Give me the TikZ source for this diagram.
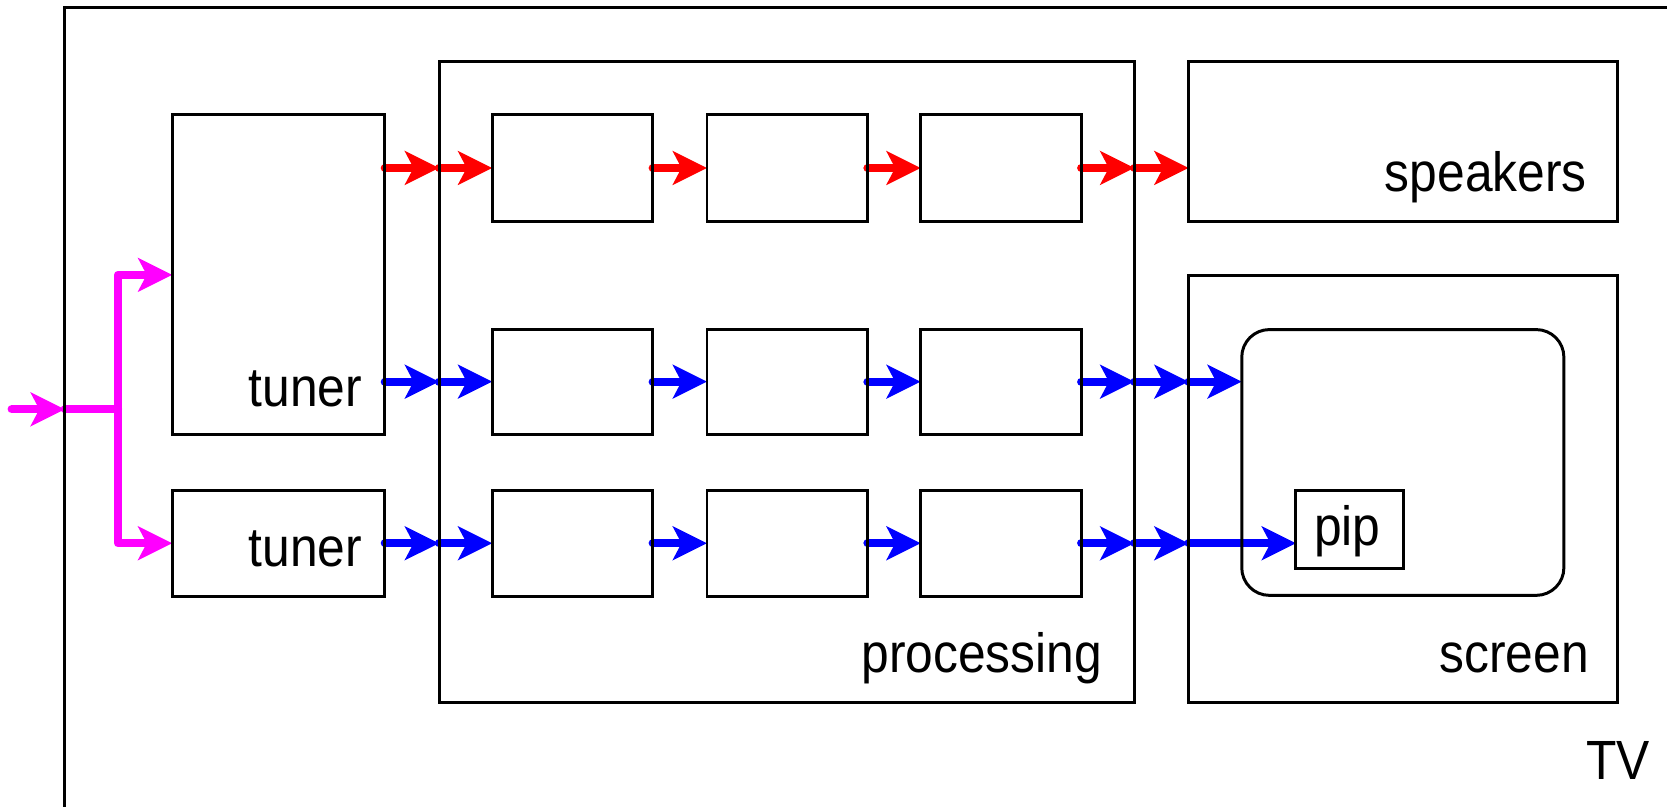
\documentclass[tikz,border=0pt]{standalone}
\usepackage{fontspec}
\setmainfont[FakeStretch=0.9]{Liberation Sans}
\usetikzlibrary{arrows.meta,fit}
\pgfdeclarelayer{bg}
\pgfsetlayers{bg,main}
\definecolor{myred}{RGB}{255,0,0}
\definecolor{myblue}{RGB}{0,0,255}
\definecolor{mymag}{RGB}{255,0,255}
\tikzset{
  box/.style={draw=black, line width=1.4pt, inner sep=0pt, outer sep=0pt, rectangle},
  lbl/.style={inner sep=0pt, anchor=base east, font=\fontsize{26pt}{31pt}\selectfont},
  flowline/.style={line width=3.9pt, line cap=round, line join=round},
  flow/.style={flowline, -{Stealth[length=16pt, width=15.7pt, inset=4pt]}},
  redflow/.style={flow, myred},
  blueflow/.style={flow, myblue},
  magflow/.style={flow, mymag},
  magline/.style={flowline, mymag},
}
\begin{document}
\begin{tikzpicture}[x=0.5pt, y=-0.5pt]
\useasboundingbox (0,0) rectangle (1568,759);
\clip (0,0) rectangle (1568,759);
% containers
\node[box, fit={(61,7) (1640,840)}] (tv) {};
\node[box, fit={(162,108) (362,409)}] (tuner1) {};
\node[box, fit={(162,461) (362,561)}] (tuner2) {};
\node[box, fit={(413,58) (1067,661)}] (proc) {};
\node[box, fit={(1118,58) (1521,208)}] (spk) {};
\node[box, fit={(1118,259) (1521,661)}] (screen) {};
\node[box, rounded corners=13pt, fit={(1168,310) (1471,560)}] (disp) {};
\node[box, fit={(1219,461) (1320,535)}] (pip) {};
% processing stages
\node[box, fit={(463,108) (614,208)}] (a1) {};
\node[box, fit={(665,108) (816,208)}] (a2) {};
\node[box, fit={(866,108) (1017,208)}] (a3) {};
\node[box, fit={(463,310) (614,409)}] (b1) {};
\node[box, fit={(665,310) (816,409)}] (b2) {};
\node[box, fit={(866,310) (1017,409)}] (b3) {};
\node[box, fit={(463,461) (614,561)}] (c1) {};
\node[box, fit={(665,461) (816,561)}] (c2) {};
\node[box, fit={(866,461) (1017,561)}] (c3) {};
% labels
\node[lbl] (tuner1lbl) at (341,382) {tuner};
\node[lbl] (tuner2lbl) at (341,533) {tuner};
\node[lbl] (spklbl) at (1493,180) {speakers};
\node[lbl] (proclbl) at (1037,633) {processing};
\node[lbl] (screenlbl) at (1495,633) {screen};
\node[lbl] (piplbl) at (1299,513) {pip};
\node[lbl] (tvlbl) at (1552,733) {TV};
% row coordinates
\coordinate (r1) at (0,158);
\coordinate (r2) at (0,359);
\coordinate (r3) at (0,511);
\coordinate (inp) at (11,385);
\coordinate (j) at (111,385);
\begin{pgfonlayer}{bg}
% red row
\draw[redflow] (tuner1.east |- r1) -- (proc.west |- r1);
\draw[redflow] (proc.west |- r1) -- (a1.west |- r1);
\draw[redflow] (a1.east |- r1) -- (a2.west |- r1);
\draw[redflow] (a2.east |- r1) -- (a3.west |- r1);
\draw[redflow] (a3.east |- r1) -- (proc.east |- r1);
\draw[redflow] (proc.east |- r1) -- (spk.west |- r1);
% blue row 2
\draw[blueflow] (tuner1.east |- r2) -- (proc.west |- r2);
\draw[blueflow] (proc.west |- r2) -- (b1.west |- r2);
\draw[blueflow] (b1.east |- r2) -- (b2.west |- r2);
\draw[blueflow] (b2.east |- r2) -- (b3.west |- r2);
\draw[blueflow] (b3.east |- r2) -- (proc.east |- r2);
\draw[blueflow] (proc.east |- r2) -- (screen.west |- r2);
\draw[blueflow] (screen.west |- r2) -- (disp.west |- r2);
% blue row 3
\draw[blueflow] (tuner2.east |- r3) -- (proc.west |- r3);
\draw[blueflow] (proc.west |- r3) -- (c1.west |- r3);
\draw[blueflow] (c1.east |- r3) -- (c2.west |- r3);
\draw[blueflow] (c2.east |- r3) -- (c3.west |- r3);
\draw[blueflow] (c3.east |- r3) -- (proc.east |- r3);
\draw[blueflow] (proc.east |- r3) -- (screen.west |- r3);
\draw[blueflow] (screen.west |- r3) -- (pip.west |- r3);
% magenta input
\draw[magflow] (inp) -- (tv.west |- inp);
\draw[magline] (tv.west |- inp) -- (j);
\draw[magflow] (j) |- (tuner1.west);
\draw[magflow] (j) |- (tuner2.west);
\end{pgfonlayer}
\end{tikzpicture}
\end{document}
